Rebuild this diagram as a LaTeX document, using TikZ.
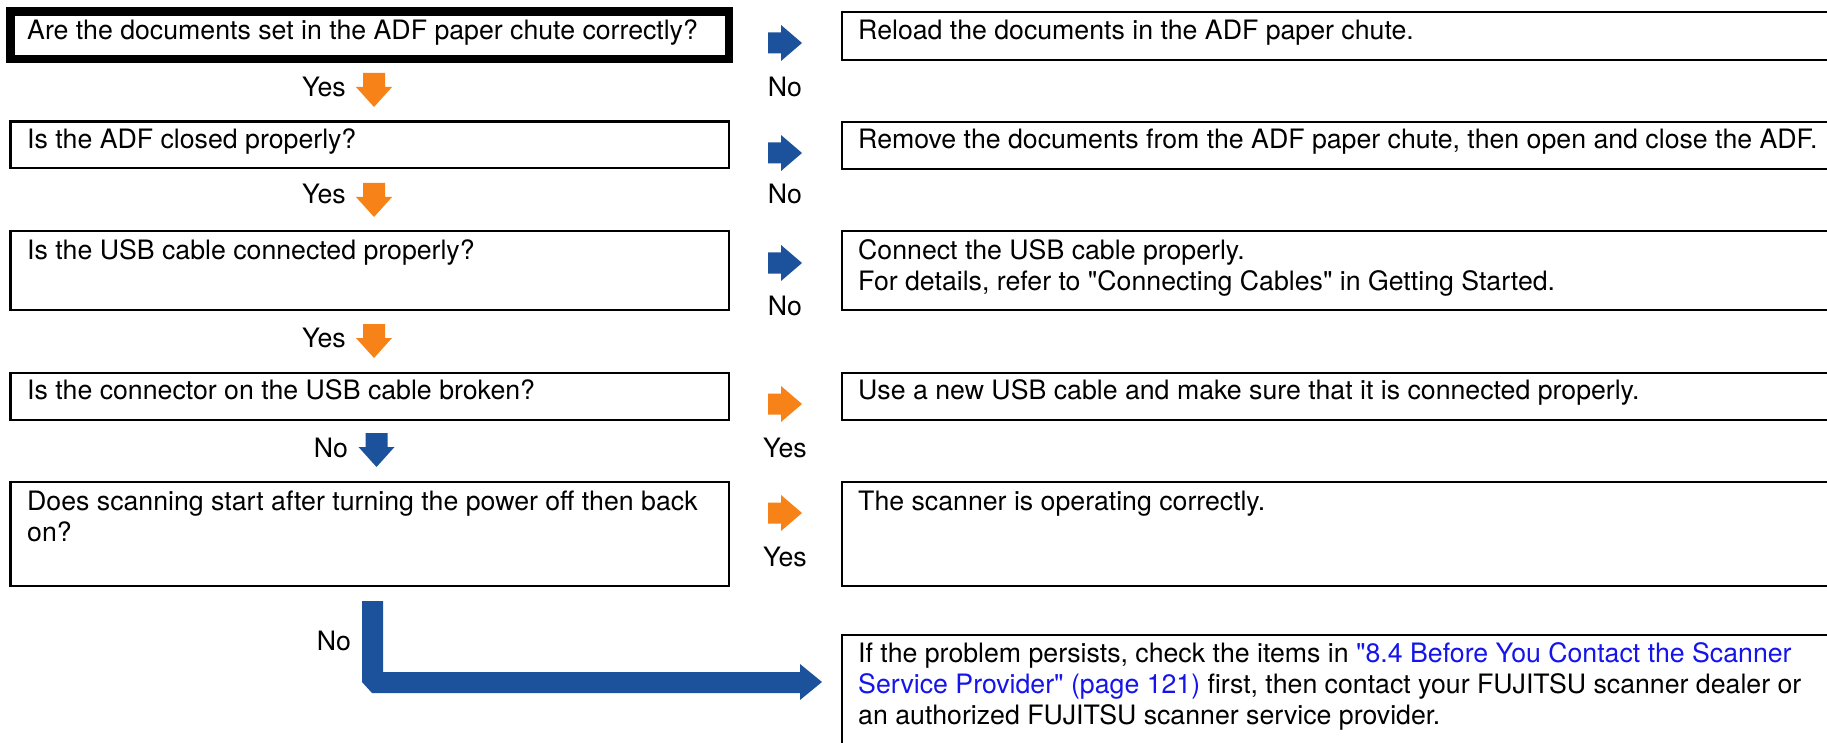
\documentclass[tikz,border=0pt]{standalone}
\usepackage{fontspec}
\setmainfont{TeX Gyre Heros}[Ligatures=TeXOff]
\definecolor{arOrange}{RGB}{247,130,24}
\definecolor{arBlue}{RGB}{28,82,156}
\definecolor{linkBlue}{RGB}{20,20,235}
\newcommand\blockRight[3]{%
  \fill[#3] (#1,#2) ++(0,-10.5) -- ++(13,0) -- ++(0,-7.5) -- ++(21,18) -- ++(-21,18) -- ++(0,-7.5) -- ++(-13,0) -- cycle;}
\newcommand\blockDown[3]{%
  \fill[#3] (#1,#2) ++(-11,0) -- ++(22,0) -- ++(0,14) -- ++(7,0) -- ++(-18,20) -- ++(-18,-20) -- ++(7,0) -- cycle;}
\begin{document}
\begin{tikzpicture}[x=1pt,y=-1pt,
  txt/.style={anchor=base west,inner sep=0pt,font=\fontsize{26.7}{31}\selectfont},
  lbl/.style={anchor=base,inner sep=0pt,font=\fontsize{26.7}{31}\selectfont},
  boxbase/.style={rectangle,draw=black,anchor=north west,inner sep=0pt,outer sep=0pt},
  qbox/.style={boxbase,line width=2.6pt,minimum width=718.5pt},
  qthick/.style={boxbase,line width=8.5pt,minimum width=718.5pt},
  abox/.style={boxbase,line width=2.6pt,minimum width=998pt}]
\useasboundingbox[fill=white] (0,0) rectangle (1827,743);
% question boxes
\node[qthick,minimum height=47.5pt] (bq1) at (10.5,11.5) {};
\node[qbox,minimum height=46.5pt] (bq2) at (10.5,121.5) {};
\node[qbox,minimum height=79pt] (bq3) at (10.5,231) {};
\node[qbox,minimum height=47pt] (bq4) at (10.5,373) {};
\node[qbox,minimum height=104pt] (bq5) at (10.5,482) {};
% answer boxes
\node[abox,minimum height=48pt] (ba1) at (842,12) {};
\node[abox,minimum height=47pt] (ba2) at (842,122) {};
\node[abox,minimum height=79pt] (ba3) at (842,231) {};
\node[abox,minimum height=47pt] (ba4) at (842,373) {};
\node[abox,minimum height=104pt] (ba5) at (842,482) {};
\node[abox,minimum height=125pt] (ba6) at (842,635) {};
% question texts
\node[txt] (q1) at (27,40) {Are the documents set in the ADF paper chute correctly?};
\node[txt] (q2) at (27,149) {Is the ADF closed properly?};
\node[txt] (q3) at (27,259) {Is the USB cable connected properly?};
\node[txt] (q4) at (27,399) {Is the connector on the USB cable broken?};
\node[txt] (q5a) at (27,510) {Does scanning start after turning the power off then back};
\node[txt] (q5b) at (27,541) {on?};
% answer texts
\node[txt] (a1) at (858,40) {Reload the documents in the ADF paper chute.};
\node[txt] (a2) at (858,149) {Remove the documents from the ADF paper chute, then open and close the ADF.};
\node[txt] (a3a) at (858,259) {Connect the USB cable properly.};
\node[txt] (a3b) at (858,290) {For details, refer to "Connecting Cables" in Getting Started.};
\node[txt] (a4) at (858,399) {Use a new USB cable and make sure that it is connected properly.};
\node[txt] (a5) at (858,510) {The scanner is operating correctly.};
\node[txt] (a6a) at (858,662) {If the problem persists, check the items in \textcolor{linkBlue}{"8.4 Before You Contact the Scanner}};
\node[txt] (a6b) at (858,693) {\textcolor{linkBlue}{Service Provider" (page 121)} first, then contact your FUJITSU scanner dealer or};
\node[txt] (a6c) at (858,724) {an authorized FUJITSU scanner service provider.};
% vertical arrows and labels
\blockDown{374}{73}{arOrange}
\node[lbl] (y1) at (324,97) {Yes};
\blockDown{374}{183}{arOrange}
\node[lbl] (y2) at (324,204) {Yes};
\blockDown{374}{324}{arOrange}
\node[lbl] (y3) at (324,347) {Yes};
\blockDown{376.5}{433}{arBlue}
\node[lbl] (n4) at (331,457) {No};
% horizontal arrows and labels
\blockRight{768}{43}{arBlue}
\node[lbl] (n1) at (785,97) {No};
\blockRight{768}{153}{arBlue}
\node[lbl] (n2) at (785,204) {No};
\blockRight{768}{263}{arBlue}
\node[lbl] (n3) at (785,315) {No};
\blockRight{768}{404}{arOrange}
\node[lbl] (y4) at (785,457) {Yes};
\blockRight{768}{513}{arOrange}
\node[lbl] (y5) at (785,566) {Yes};
% L arrow
\fill[arBlue] (362,601) -- (383,601) -- (383,672) -- (800,672) -- (800,664) -- (822,682) -- (800,700) -- (800,693) -- (372,693) -- (362,682) -- cycle;
\node[lbl] (n5) at (334,650) {No};
\end{tikzpicture}
\end{document}
